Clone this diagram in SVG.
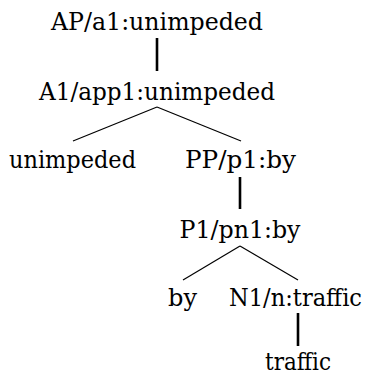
<svg xmlns="http://www.w3.org/2000/svg" width="369" height="377" viewBox="0 0 369 377">
<style>
text{font-family:'DejaVu Serif',serif;font-size:23.5px;fill:#000;text-anchor:middle}
.v{stroke:#000;stroke-width:2.6;fill:none}
.d{stroke:#000;stroke-width:1.2;fill:none}
</style>
<rect width="369" height="377" fill="#fff"/>
<g id="connectors">
<line class="v" x1="157" y1="38" x2="157" y2="71"/>
<line class="d" x1="157" y1="107" x2="73" y2="141"/>
<line class="d" x1="157" y1="107" x2="241" y2="141"/>
<line class="v" x1="240" y1="177" x2="240" y2="209"/>
<line class="d" x1="240" y1="246" x2="183" y2="280"/>
<line class="d" x1="240" y1="246" x2="298" y2="280"/>
<line class="v" x1="298" y1="313" x2="298" y2="346"/>
</g>
<g id="n-ap"><text x="157" y="30" textLength="212" lengthAdjust="spacingAndGlyphs">AP/a1:unimpeded</text></g>
<g id="n-a1"><text x="157" y="100" textLength="236" lengthAdjust="spacingAndGlyphs">A1/app1:unimpeded</text></g>
<g id="n-unimpeded"><text x="72.5" y="168" textLength="127" lengthAdjust="spacingAndGlyphs">unimpeded</text></g>
<g id="n-pp"><text x="240.5" y="168" textLength="111" lengthAdjust="spacingAndGlyphs">PP/p1:by</text></g>
<g id="n-p1"><text x="240" y="238" textLength="121" lengthAdjust="spacingAndGlyphs">P1/pn1:by</text></g>
<g id="n-by"><text x="182.5" y="306" textLength="29" lengthAdjust="spacingAndGlyphs">by</text></g>
<g id="n-n1"><text x="295.5" y="306" textLength="133" lengthAdjust="spacingAndGlyphs">N1/n:traffic</text></g>
<g id="n-traffic"><text x="298" y="370" textLength="66" lengthAdjust="spacingAndGlyphs">traffic</text></g>
</svg>
